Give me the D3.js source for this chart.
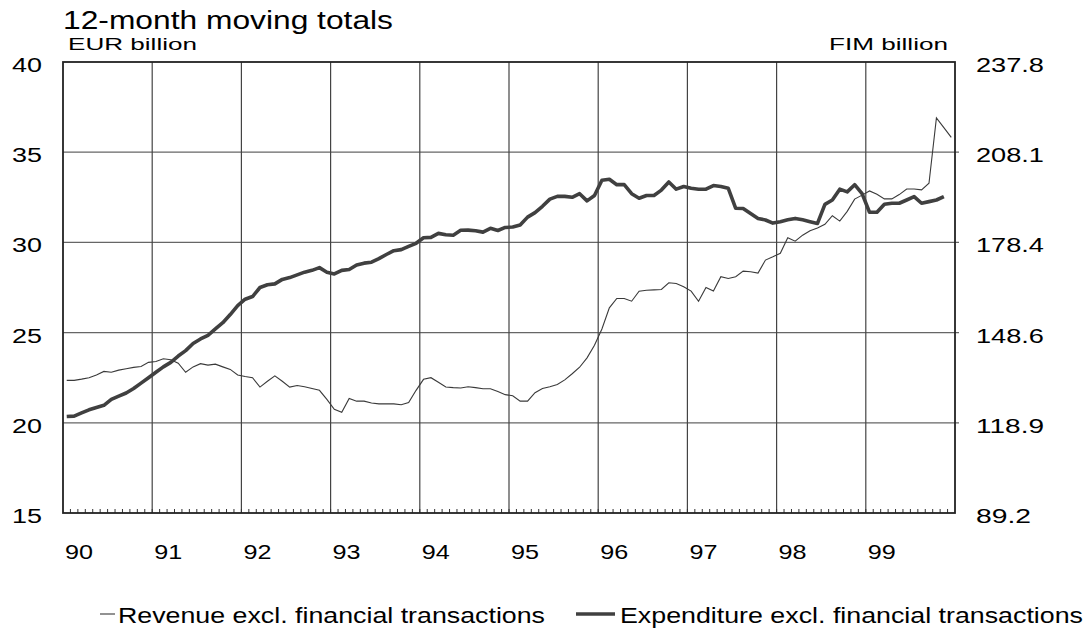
<!DOCTYPE html>
<html>
<head>
<meta charset="utf-8">
<script src="https://cdn.jsdelivr.net/npm/d3@7"></script>
<style>
  body { margin: 0; background: #fff; }
  text { font-family: "Liberation Sans", Arial, sans-serif; fill: #000; }
</style>
</head>
<body>
<script>
// monthly 12-month moving totals, Jan 1990 ->
var revenue = [
  22.35, 22.35, 22.42, 22.5, 22.65, 22.85, 22.8, 22.92, 23.0, 23.07, 23.12, 23.35,
  23.4, 23.55, 23.5, 23.3, 22.8, 23.1, 23.28, 23.2, 23.25, 23.1, 22.96, 22.65,
  22.57, 22.5, 21.98, 22.3, 22.6, 22.3, 21.98, 22.07, 22.0, 21.9, 21.8, 21.3,
  20.75, 20.58, 21.35, 21.2, 21.2, 21.1, 21.05, 21.05, 21.05, 21.0, 21.12, 21.8,
  22.41, 22.5, 22.25, 21.98, 21.95, 21.93, 22.0, 21.95, 21.89, 21.89, 21.73, 21.56,
  21.5, 21.2, 21.2, 21.67, 21.9, 22.0, 22.12, 22.38, 22.72, 23.08, 23.6, 24.3,
  25.2, 26.37, 26.89, 26.89, 26.74, 27.29, 27.35, 27.37, 27.39, 27.76, 27.72, 27.54,
  27.3, 26.74, 27.5, 27.3, 28.1, 28.0, 28.1, 28.41, 28.37, 28.3, 29.02, 29.2,
  29.4, 30.26, 30.07, 30.4, 30.65, 30.8, 31.0, 31.48, 31.18, 31.72, 32.4, 32.62,
  32.85, 32.67, 32.41, 32.41, 32.65, 32.96, 32.96, 32.91, 33.28, 36.9, 36.36, 35.82
];
var expenditure = [
  20.35, 20.37, 20.55, 20.72, 20.85, 20.97, 21.3, 21.48, 21.65, 21.9, 22.2, 22.5,
  22.8, 23.1, 23.35, 23.7, 24.0, 24.4, 24.65, 24.85, 25.2, 25.55, 26.0, 26.5,
  26.85, 27.0, 27.5, 27.65, 27.7, 27.95, 28.05, 28.2, 28.35, 28.45, 28.6, 28.35,
  28.25, 28.45, 28.5, 28.75, 28.85, 28.9, 29.1, 29.33, 29.54, 29.6, 29.78, 29.95,
  30.26, 30.28, 30.5, 30.42, 30.4, 30.67, 30.68, 30.65, 30.57, 30.78, 30.66, 30.83,
  30.85, 30.96, 31.4, 31.65, 32.0, 32.4, 32.55, 32.55, 32.5, 32.7, 32.3, 32.6,
  33.45, 33.5, 33.2, 33.2, 32.7, 32.45, 32.6, 32.6, 32.9, 33.35, 32.95, 33.1,
  33.0, 32.95, 32.95, 33.15, 33.1, 33.0, 31.89, 31.88, 31.6, 31.33, 31.24, 31.07,
  31.15, 31.25, 31.33, 31.25, 31.15, 31.05, 32.11, 32.35, 32.95, 32.8, 33.2, 32.7,
  31.67, 31.67, 32.11, 32.17, 32.17, 32.35, 32.54, 32.17, 32.26, 32.35, 32.54
];
var yearLabels = ["90", "91", "92", "93", "94", "95", "96", "97", "98", "99"];
var eurTicks = [15, 20, 25, 30, 35, 40];
var fimLabels = ["89.2", "118.9", "148.6", "178.4", "208.1", "237.8"];
var seriesNames = ["Revenue excl. financial transactions", "Expenditure excl. financial transactions"];

var W = 1092, H = 634;
var svg = d3.select("body").append("svg").attr("width", W).attr("height", H);

var x = d3.scaleLinear().domain([1990, 2000]).range([63, 955]);
var y = d3.scaleLinear().domain([15, 40]).range([513, 62]);

// month index -> mid month position
function t(i) { return 1990 + (i + 0.5) / 12; }

// grid
var g = svg.append("g");
g.selectAll(".hg").data(eurTicks.slice(1, -1)).enter().append("line")
  .attr("x1", x(1990)).attr("x2", x(2000) + 4)
  .attr("y1", function(d) { return y(d); }).attr("y2", function(d) { return y(d); })
  .attr("stroke", "#666").attr("stroke-width", 1.2);
g.selectAll(".vg").data(d3.range(1991, 2000)).enter().append("line")
  .attr("x1", function(d) { return x(d); }).attr("x2", function(d) { return x(d); })
  .attr("y1", y(40)).attr("y2", y(15))
  .attr("stroke", "#444").attr("stroke-width", 1.2);

// monthly minor ticks on the bottom axis
g.selectAll(".mt").data(d3.range(1, 120)).enter().append("line")
  .attr("x1", function(d) { return x(1990 + d / 12); }).attr("x2", function(d) { return x(1990 + d / 12); })
  .attr("y1", y(15)).attr("y2", y(15) - 4)
  .attr("stroke", "#333").attr("stroke-width", 1);

// frame
svg.append("rect").attr("x", x(1990)).attr("y", y(40))
  .attr("width", x(2000) - x(1990)).attr("height", y(15) - y(40))
  .attr("fill", "none").attr("stroke", "#222").attr("stroke-width", 1.8);

// lines
var line = d3.line().x(function(d, i) { return x(t(i)); }).y(function(d) { return y(d); });
svg.append("path").datum(revenue).attr("d", line)
  .attr("fill", "none").attr("stroke", "#3a3a3a").attr("stroke-width", 1.1);
svg.append("path").datum(expenditure).attr("d", line)
  .attr("fill", "none").attr("stroke", "#404040").attr("stroke-width", 3.6)
  .attr("stroke-linejoin", "round");

// left axis labels
svg.selectAll(".yl").data(eurTicks).enter().append("text")
  .attr("x", 12).attr("y", function(d) { return y(d) + 10; })
  .attr("font-size", 19.5).attr("textLength", 30).attr("lengthAdjust", "spacingAndGlyphs")
  .text(function(d) { return d; });

// right axis labels
svg.selectAll(".rl").data(fimLabels).enter().append("text")
  .attr("x", 976).attr("y", function(d, i) { return y(eurTicks[i]) + 10; })
  .attr("font-size", 19.5)
  .attr("textLength", function(d) { return d.length === 5 ? 68 : 55; })
  .attr("lengthAdjust", "spacingAndGlyphs")
  .text(function(d) { return d; });

// year labels
svg.selectAll(".xl").data(yearLabels).enter().append("text")
  .attr("x", function(d, i) { return x(1990 + i) + 2; }).attr("y", 559)
  .attr("font-size", 21).attr("textLength", 28).attr("lengthAdjust", "spacingAndGlyphs")
  .text(function(d) { return d; });

// titles
svg.append("text").attr("x", 63).attr("y", 28.5).attr("font-size", 26)
  .attr("textLength", 330).attr("lengthAdjust", "spacingAndGlyphs")
  .text("12-month moving totals");
svg.append("text").attr("x", 68).attr("y", 50).attr("font-size", 17)
  .attr("textLength", 129).attr("lengthAdjust", "spacingAndGlyphs")
  .text("EUR billion");
svg.append("text").attr("x", 829).attr("y", 50).attr("font-size", 17)
  .attr("textLength", 119).attr("lengthAdjust", "spacingAndGlyphs")
  .text("FIM billion");

// legend
var leg = svg.append("g");
leg.append("line").attr("x1", 100).attr("x2", 115).attr("y1", 614).attr("y2", 614)
  .attr("stroke", "#3a3a3a").attr("stroke-width", 1.1);
leg.append("text").attr("x", 118).attr("y", 623).attr("font-size", 21.5)
  .attr("textLength", 427).attr("lengthAdjust", "spacingAndGlyphs").text(seriesNames[0]);
leg.append("line").attr("x1", 576).attr("x2", 615).attr("y1", 614).attr("y2", 614)
  .attr("stroke", "#404040").attr("stroke-width", 3.6);
leg.append("text").attr("x", 620).attr("y", 623).attr("font-size", 21.5)
  .attr("textLength", 463).attr("lengthAdjust", "spacingAndGlyphs").text(seriesNames[1]);
</script>
</body>
</html>
